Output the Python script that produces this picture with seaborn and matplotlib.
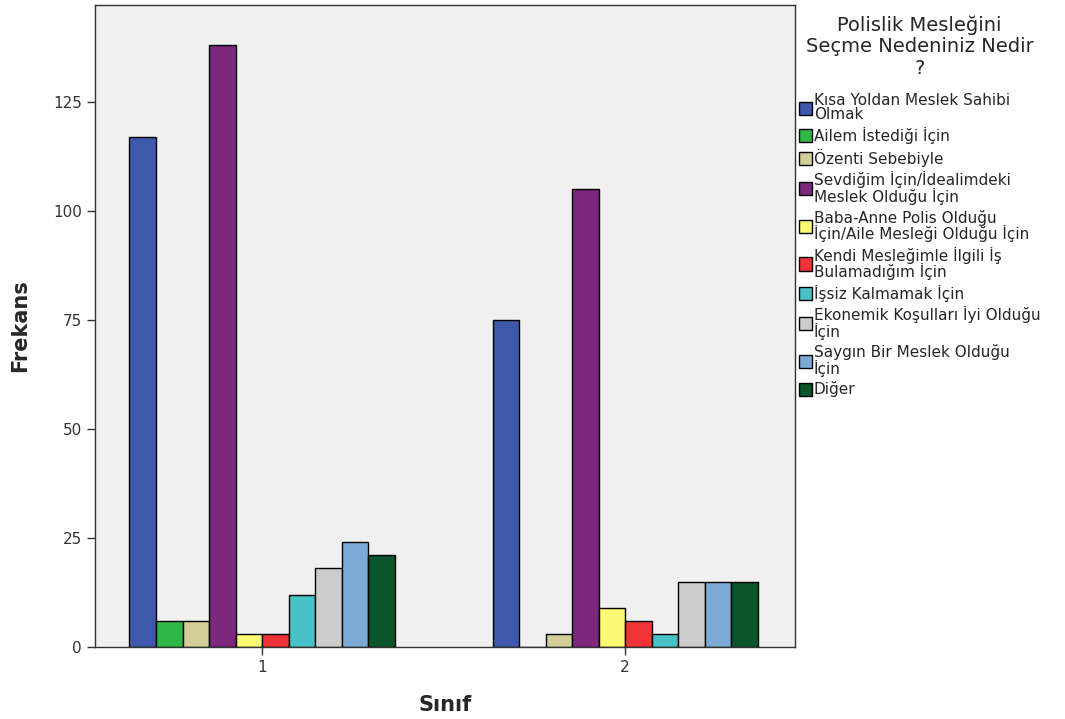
import pandas as pd
import seaborn as sns
from matplotlib import pyplot as plt

# data
siniflar = ['1', '2']
nedenler = ['Kısa Yoldan Meslek Sahibi\nOlmak',
            'Ailem İstediği İçin',
            'Özenti Sebebiyle',
            'Sevdiğim İçin/İdealimdeki\nMeslek Olduğu İçin',
            'Baba-Anne Polis Olduğu\nİçin/Aile Mesleği Olduğu İçin',
            'Kendi Mesleğimle İlgili İş\nBulamadığım İçin',
            'İşsiz Kalmamak İçin',
            'Ekonemik Koşulları İyi Olduğu\nİçin',
            'Saygın Bir Meslek Olduğu\nİçin',
            'Diğer']
sinif1 = [117, 6, 6, 138, 3, 3, 12, 18, 24, 21]
sinif2 = [75, 0, 3, 105, 9, 6, 3, 15, 15, 15]
renkler = ['#3E58AC', '#2EB848', '#D3CE97', '#7B287D', '#FBF873',
           '#EF3338', '#48C2C5', '#CCCCCC', '#7BAAD7', '#0B552B']

df = pd.DataFrame({
    'Sınıf': [siniflar[0]] * len(nedenler) + [siniflar[1]] * len(nedenler),
    'Neden': nedenler * 2,
    'Frekans': sinif1 + sinif2,
})

sns.set_style('white')
plt.rcParams['font.family'] = ['DejaVu Sans']

fig = plt.figure(figsize=(10.65, 7.19), dpi=100)
ax = fig.add_axes([95 / 1065, 1 - 647 / 719, 700 / 1065, 642 / 719])

sns.barplot(data=df, x='Sınıf', y='Frekans', hue='Neden', hue_order=nedenler,
            palette=renkler, width=0.73, edgecolor='black', linewidth=1,
            saturation=1, ax=ax)

ax.set_facecolor('#F0F0F0')
ax.set_xlim(-0.46, 1.468)
ax.set_ylim(0, 147.2)
ax.set_yticks([0, 25, 50, 75, 100, 125])
for s in ax.spines.values():
    s.set_color('#333333')
    s.set_linewidth(1)
ax.tick_params(axis='both', which='major', direction='out', length=6,
               width=1, color='#333333', labelsize=11, labelcolor='#333333',
               left=True, bottom=True)
ax.set_xlabel('Sınıf', fontsize=15, fontweight='bold', labelpad=14)
ax.set_ylabel('Frekans', fontsize=15, fontweight='bold')
ax.yaxis.set_label_coords(-0.092, 0.5)

handles, labels = ax.get_legend_handles_labels()
leg = ax.legend(handles, labels, title='Polislik Mesleğini\nSeçme Nedeniniz Nedir\n?',
                loc='upper left', bbox_to_anchor=(797 / 1065, 1 - 14 / 719),
                bbox_transform=fig.transFigure, frameon=False, fontsize=11,
                title_fontsize=14, alignment='center', handlelength=0.85,
                handleheight=0.95, handletextpad=0.15, labelspacing=0.31,
                borderpad=0.1, borderaxespad=0)
leg.get_title().set_linespacing(1.15)
leg.get_title().set_multialignment('center')
for t in leg.get_texts():
    t.set_linespacing(0.95)
# more room between the legend title and the entries
leg._legend_box.sep = 11

fig.savefig('out.png', dpi=100)
